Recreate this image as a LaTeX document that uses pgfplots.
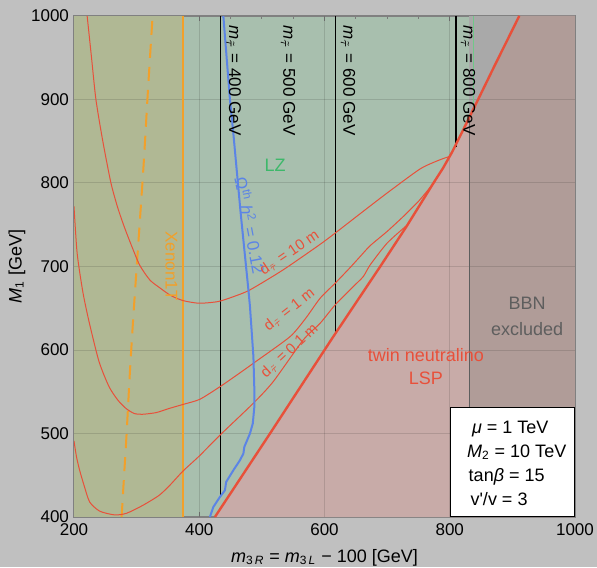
\documentclass[border=0pt]{standalone}
\usepackage{fontspec}
\setmainfont{Liberation Sans}
\usepackage{pgfplots}
\pgfplotsset{compat=1.18}
\definecolor{bgc}{HTML}{C0C0C0}
\definecolor{lzc}{HTML}{A8BFAE}
\definecolor{xenc}{HTML}{B0B894}
\definecolor{pinkc}{HTML}{C8ABA8}
\definecolor{brownc}{HTML}{B09C98}
\definecolor{grayc}{HTML}{A9A9A9}
\definecolor{redc}{HTML}{E8503A}
\definecolor{bluec}{HTML}{5B84E6}
\definecolor{orangec}{HTML}{F2A02A}
\definecolor{lztext}{HTML}{3DB86A}
\definecolor{bbntext}{HTML}{5E5E5E}
\definecolor{framec}{HTML}{808080}
\definecolor{tickc}{HTML}{7A7A7A}
\definecolor{lzline}{HTML}{70C888}
\newcommand{\fs}[1]{\fontsize{#1}{#1}\selectfont}
\newcommand{\stau}{\textsubscript{$\tilde{\tau}$}}
\begin{document}
\begin{tikzpicture}
\path[fill=bgc, use as bounding box] (-37pt,-25pt) rectangle (261.5pt,258.5pt);
\begin{axis}[
  at={(0pt,0pt)}, anchor=south west, scale only axis,
  width=250.5pt, height=250.5pt,
  xmin=200, xmax=1000, ymin=400, ymax=1000,
  xtick={200,400,600,800,1000}, ytick={400,500,...,1000},
  minor x tick num=3, minor y tick num=4,
  tick pos=both,
  tick align=inside, major tick length=2.5pt, minor tick length=1.5pt,
  tick style={color=tickc, line width=0.5pt},
  axis line style={draw=framec, line width=0.7pt},
  every tick label/.append style={font=\fs{8.5}, text=black},
  /pgf/number format/assume math mode=true,
  /pgf/number format/1000 sep={},
  yticklabel style={xshift=1pt},
  xlabel={\textit{m}\textsubscript{3\,\textit{R}} = \textit{m}\textsubscript{3\,\textit{L}} − 100 [GeV]},
  ylabel={\textit{M}\textsubscript{1} [GeV]},
  every axis x label/.style={at={(axis description cs:0.5,0)}, anchor=center, yshift=-20.5pt, font=\fs{9}},
  every axis y label/.style={at={(axis description cs:0,0.5)}, anchor=center, xshift=-28.5pt, rotate=90, font=\fs{9}},
  axis background/.style={fill=lzc},
]
% regions
\addplot[draw=none, fill=xenc] coordinates {(200,400) (374,400) (374,1000) (200,1000)} -- cycle;
\addplot[draw=none, fill=grayc] coordinates {(831,400) (1000,400) (1000,1000) (831,1000)} -- cycle;
\addplot[draw=none, fill=pinkc] coordinates {(425,400) (513,500) (614,616) (689,700) (731,748) (774,800) (789,817.5) (803,836) (823,866) (843,896.5) (870,938) (911,1000) (1000,1000) (1000,400)} -- cycle;
\addplot[draw=none, fill=brownc] coordinates {(831,878) (843,896.5) (870,938) (911,1000) (1000,1000) (1000,400) (831,400)} -- cycle;
% grid
\pgfplotsinvokeforeach{400,600,800}{
  \addplot[black, opacity=0.12, line width=0.5pt] coordinates {(#1,400) (#1,1000)};
}
\pgfplotsinvokeforeach{500,600,700,800,900}{
  \addplot[black, opacity=0.12, line width=0.5pt] coordinates {(200,#1) (1000,#1)};
}
% stau mass lines
\addplot[black, line width=0.6pt] coordinates {(434,1000) (434,424)};
\addplot[black, line width=0.6pt] coordinates {(617,1000) (617,619)};
\addplot[black, line width=0.6pt] coordinates {(810,1000) (810,843)};
% BBN / LZ boundaries
\addplot[bbntext, line width=0.5pt] coordinates {(831,400) (831,878)};
\addplot[lzline, line width=0.8pt] coordinates {(838,890) (838,1000)};
% Xenon1T
\addplot[orangec, line width=1pt, dash pattern=on 7pt off 4.5pt, smooth] coordinates {(276,400) (280,450) (284,500) (289,570) (295,643) (302,720) (311,820) (318,910) (325.5,1000)};
\addplot[orangec, line width=1pt] coordinates {(374,400) (374,1000)};
% decay length curves
\addplot[redc, line width=0.5pt, smooth, tension=0.4] coordinates {(221,1000) (228,950) (235,900) (246,850) (259,800) (270,770) (283,742) (304,703) (321,684) (336,675) (355,665) (375,659) (400,656) (430,658) (455,664) (481,672) (534,696) (592,726) (617,740) (660,765) (700,788) (753,817) (785,828) (801,832)};
\addplot[redc, line width=0.5pt, smooth, tension=0.4] coordinates {(200,772) (205,716) (214,670) (224,634) (240,586) (256,556) (270,540) (283,530) (296,524) (309,523) (331,525) (352,530) (375,535) (401,541) (433,556) (460,570) (490,586) (545,616) (570,638) (593,662) (617,680) (640,698) (657,712) (673,725) (700,742) (726,760) (750,778) (769,795) (777,802)};
\addplot[redc, line width=0.5pt, smooth, tension=0.4] coordinates {(200,491) (204,472) (209,456) (216,438) (225,418) (241,407) (265,402.5) (284,404.5) (310,414) (336,426) (353,438) (374,455) (400,473) (433,498) (486,536) (518,562) (566,612) (593,632) (617,654) (646,676) (662,688) (673,702) (700,728) (731,749)};
% relic density
\addplot[bluec, line width=1pt] coordinates {(417,400) (422.5,412) (433,424) (441,432) (443,442) (454.5,456) (465,468) (470.5,476) (472,484) (481,500) (485.5,512) (488,532) (488,552) (486.5,592) (481,652) (478.5,672) (466,765) (454.5,859) (449,900) (438.5,1000)};
% LSP boundary
\addplot[redc, line width=1.2pt] coordinates {(425,400) (513,500) (614,616) (689,700) (731,748) (774,800) (789,817.5) (803,836) (823,866) (843,896.5) (870,938) (911,1000)};
% labels
\node[rotate=-90, anchor=base west, font=\fs{8.5}] at (axis cs:447.6,997) {\textit{m}\stau{} = 400 GeV};
\node[rotate=-90, anchor=base west, font=\fs{8.5}] at (axis cs:534.3,997) {\textit{m}\stau{} = 500 GeV};
\node[rotate=-90, anchor=base west, font=\fs{8.5}] at (axis cs:630.2,997) {\textit{m}\stau{} = 600 GeV};
\node[rotate=-90, anchor=base west, font=\fs{8.5}] at (axis cs:821.9,997) {\textit{m}\stau{} = 800 GeV};
\node[text=lztext, font=\fs{9}] at (axis cs:521,821.6) {LZ};
\node[text=orangec, rotate=-90, font=\fs{8.5}] at (axis cs:355.7,700.6) {Xenon1T};
\node[text=bluec, rotate=-79, font=\fs{8.5}] at (axis cs:482,749) {Ω\textsuperscript{th} \textit{h}\textsuperscript{2} = 0.12};
\node[text=redc, rotate=34, font=\fs{7.5}] at (axis cs:544,716) {d\stau{} = 10 m};
\node[text=redc, rotate=38, font=\fs{7.5}] at (axis cs:544,648) {d\stau{} = 1 m};
\node[text=redc, rotate=43, font=\fs{7.5}] at (axis cs:544,599) {d\stau{} = 0.1 m};
\node[text=redc, align=center, font=\fontsize{9}{11.5}\selectfont] at (axis cs:762,580) {twin neutralino\\LSP};
\node[text=bbntext, align=center, font=\fontsize{9}{13}\selectfont] at (axis cs:923.6,640.7) {BBN\\excluded};
% parameter box
\node[draw=black, line width=0.6pt, fill=white, anchor=south east, minimum width=62pt, minimum height=54.5pt, inner sep=0pt] at (rel axis cs:1,0) {};
\node[anchor=base west, inner sep=0pt, font=\fs{9}] at (axis cs:835,500.2) {\textit{μ} = 1 TeV};
\node[anchor=base west, inner sep=0pt, font=\fs{9}] at (axis cs:827,471.5) {\textit{M}\textsubscript{2} = 10 TeV};
\node[anchor=base west, inner sep=0pt, font=\fs{9}] at (axis cs:829.7,442.3) {tan\textit{β} = 15};
\node[anchor=base west, inner sep=0pt, font=\fs{9}] at (axis cs:832.6,413.2) {v\textquotesingle/v = 3};
\end{axis}
\end{tikzpicture}
\end{document}
